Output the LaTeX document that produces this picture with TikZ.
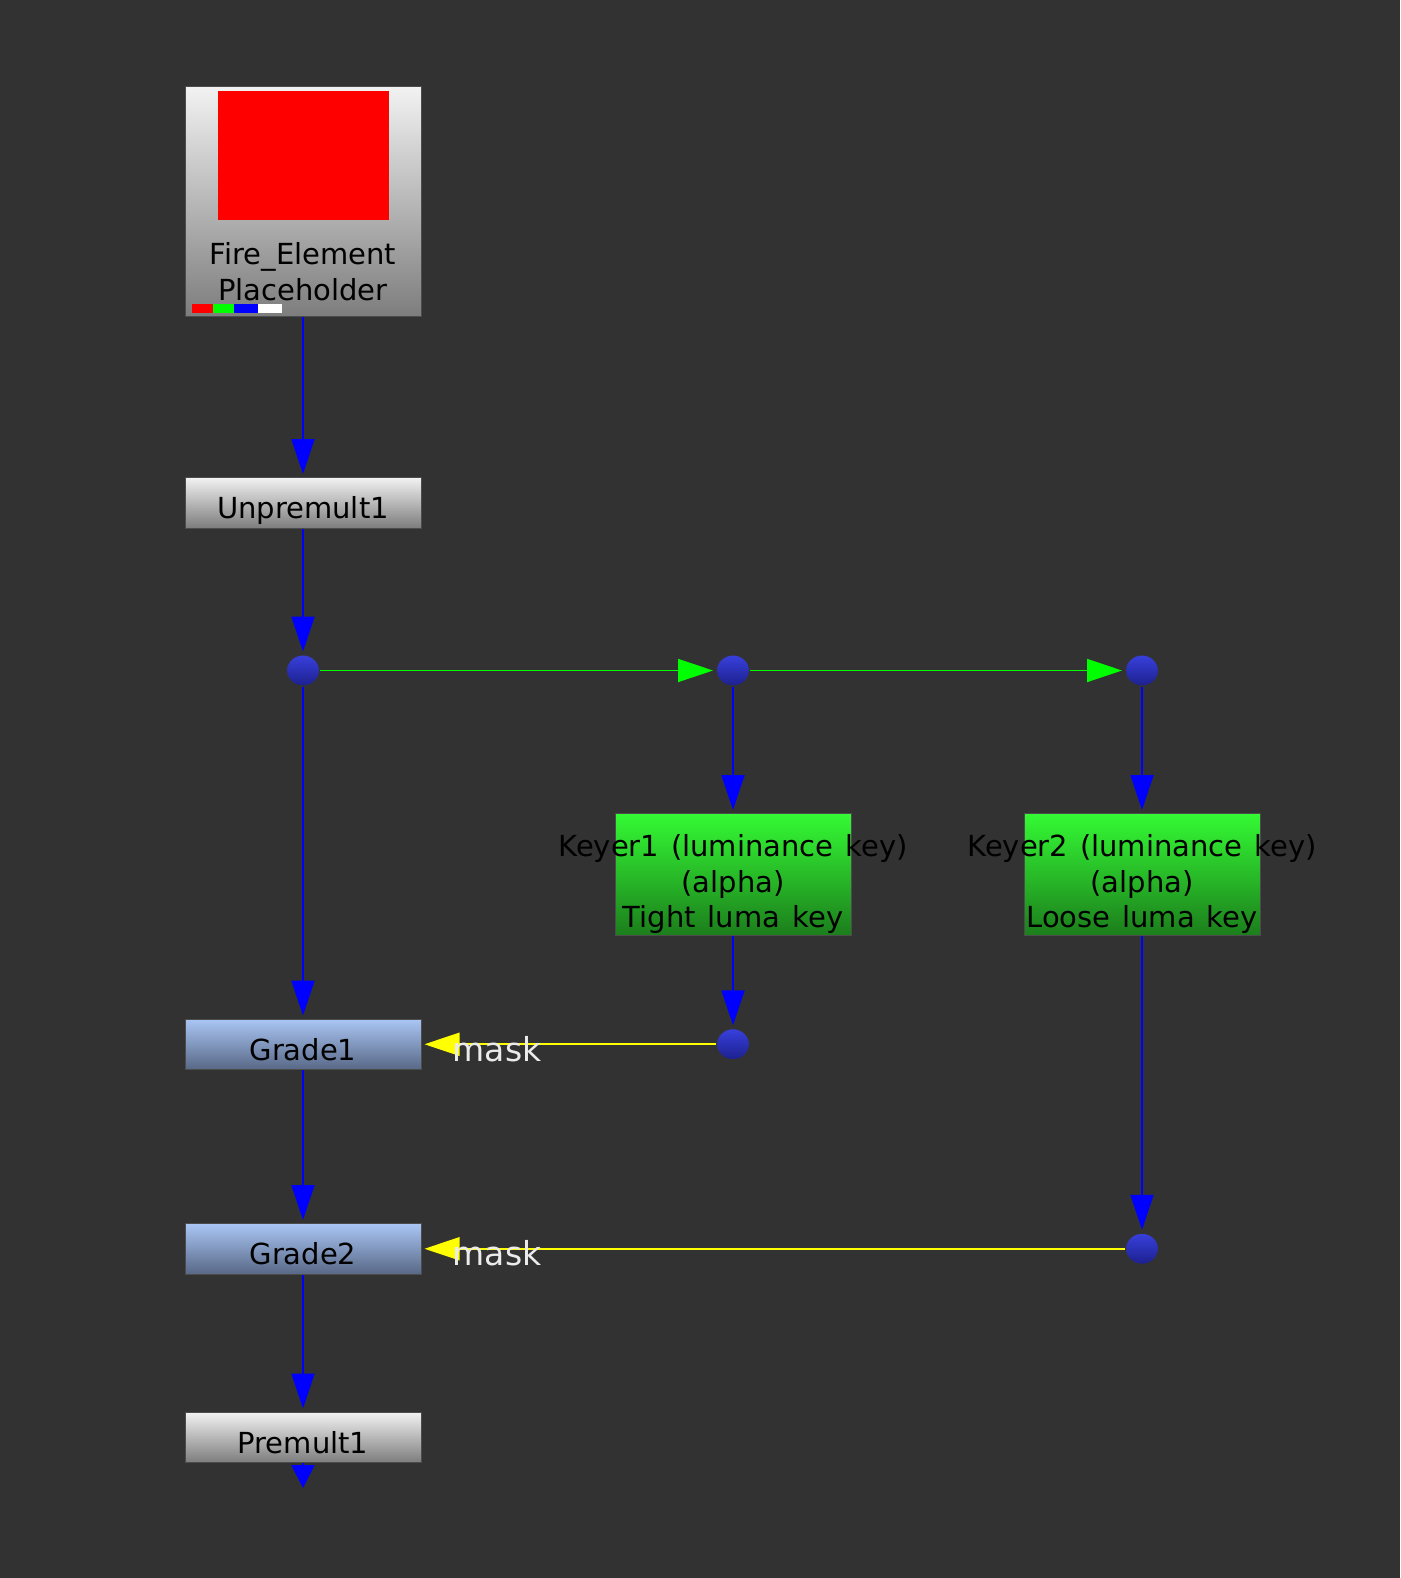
\documentclass[tikz,border=0pt]{standalone}
\usepackage{fontspec}
\setmainfont{DejaVu Sans}[WordSpace=1.3]
\usepackage{tikz}
\usetikzlibrary{arrows.meta,positioning,shapes.geometric}
\definecolor{nbg}{RGB}{50,50,50}
\definecolor{nblue}{RGB}{0,0,255}
\definecolor{ngreen}{RGB}{0,255,0}
\definecolor{nyellow}{RGB}{255,255,0}
\definecolor{gytop}{RGB}{242,242,242}
\definecolor{gybot}{RGB}{125,125,125}
\definecolor{bltop}{RGB}{170,198,245}
\definecolor{blbot}{RGB}{88,104,134}
\definecolor{kytop}{RGB}{52,250,52}
\definecolor{kybot}{RGB}{28,125,28}
\definecolor{dottop}{RGB}{56,64,222}
\definecolor{dotbot}{RGB}{28,32,140}
\definecolor{masktxt}{RGB}{235,235,235}
\newcommand\nkfont{\fontsize{29}{35.5}\selectfont}
\tikzset{
  grbox/.style   ={rectangle, draw=black!70, line width=1pt, top color=gytop,
                   bottom color=gybot, minimum width=236pt, inner sep=0pt,
                   text height=41pt, text depth=9.5pt, font=\nkfont},
  readbox/.style ={grbox, minimum height=230pt, text height=0pt, text depth=0pt},
  gradebox/.style={grbox, top color=bltop, bottom color=blbot},
  keybox/.style  ={grbox, top color=kytop, bottom color=kybot, minimum height=122pt,
                   text height=0pt, text depth=0pt},
  thumb/.style   ={rectangle, fill=red, minimum width=171pt, minimum height=129pt,
                   inner sep=0pt},
  joint/.style   ={ellipse, draw=black!80, line width=1pt, top color=dottop,
                   bottom color=dotbot, minimum width=33pt, minimum height=31pt,
                   inner sep=0pt},
  lbl/.style     ={align=center, inner sep=0pt, font=\nkfont, text=black},
  masklbl/.style ={inner sep=0pt, font=\fontsize{33}{36}\selectfont, text=masktxt},
  wire/.style    ={draw=nblue, line width=1.8pt, shorten >=3pt,
                   -{Triangle[length=35pt,width=23pt]}},
  pipe/.style    ={wire, draw=ngreen},
  maskwire/.style={wire, draw=nyellow}
}
\begin{document}
\begin{tikzpicture}[x=1pt, y=1pt]
\fill[nbg] (0,0) rectangle (1400,-1578);
\useasboundingbox (0,0) rectangle (1400,-1578);
% main column
\node[readbox] (fire) at (303,-201.8) {};
\node[thumb, below=4.3pt of fire.north] (thumb) {};
\node[lbl, above=16.5pt of fire.south] (firelbl) {Fire\_Element\\Placeholder};
\foreach \c/\a/\b in {red/7.3/28.3, ngreen/28.3/49.3, nblue/49.3/73.3, white/73.3/97.3}
  \fill[\c] ([shift={(\a pt,4.3pt)}]fire.south west) rectangle ([shift={(\b pt,13pt)}]fire.south west);
\node[grbox, below=159.7pt of fire] (unpremult) {Unpremult1};
\node[joint, below=126pt of unpremult] (dot1) {};
\node[joint, right=396pt of dot1] (dot2) {};
\node[joint, right=375pt of dot2] (dot3) {};
% keyers
\node[keybox, below=126.5pt of dot2] (keyer1) {};
\node[keybox, below=126.5pt of dot3] (keyer2) {};
\node[lbl] (keyer1txt) at ([yshift=-9.5pt]keyer1.center)
  {Keyer1 (luminance key)\\(alpha)\\Tight luma key};
\node[lbl] (keyer2txt) at ([yshift=-9.5pt]keyer2.center)
  {Keyer2 (luminance key)\\(alpha)\\Loose luma key};
\node[gradebox, below=332pt of dot1] (grade1) {Grade1};
\node[gradebox, below=153pt of grade1] (grade2) {Grade2};
\node[grbox, below=137pt of grade2] (premult) {Premult1};
\node[joint] (dot4) at (keyer1 |- grade1) {};
\node[joint] (dot5) at (keyer2 |- grade2) {};
\coordinate[below=25pt of premult.south] (out);
% connections
\draw[wire] (fire) -- (unpremult);
\draw[wire] (unpremult) -- (dot1);
\draw[wire] (dot1) -- (grade1);
\draw[pipe] (dot1) -- (dot2);
\draw[pipe] (dot2) -- (dot3);
\draw[wire] (dot2) -- (keyer1);
\draw[wire] (dot3) -- (keyer2);
\draw[wire] (keyer1) -- (dot4);
\draw[wire] (keyer2) -- (dot5);
\draw[wire] (grade1) -- (grade2);
\draw[wire] (grade2) -- (premult);
\draw[wire, shorten >=0pt, -{Triangle[length=23pt,width=23pt]}] (premult) -- (out);
\draw[maskwire] (dot4) -- (grade1);
\draw[maskwire] (dot5) -- (grade2);
\node[masklbl, anchor=base west] (mask1) at ([xshift=31pt,yshift=-1pt]grade1.base east) {mask};
\node[masklbl, anchor=base west] (mask2) at ([xshift=31pt,yshift=-1pt]grade2.base east) {mask};
\end{tikzpicture}
\end{document}
